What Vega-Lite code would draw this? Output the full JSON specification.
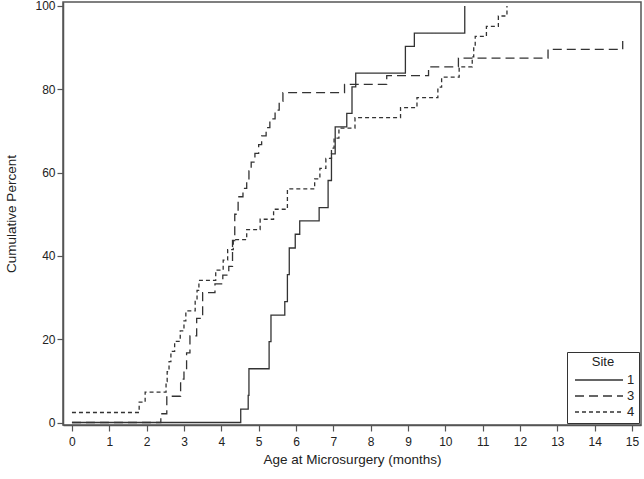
{
  "$schema": "https://vega.github.io/schema/vega-lite/v6.json",
  "width": 578,
  "height": 423,
  "autosize": {"type": "none"},
  "padding": {"left": 63, "top": 2, "right": 3, "bottom": 54},
  "background": "white",
  "config": {
    "font": "Liberation Sans",
    "view": {"stroke": "#555", "strokeWidth": 1.5},
    "axis": {"grid": false, "domainColor": "#555", "domainWidth": 1.5, "tickColor": "#555", "tickWidth": 1.2, "tickSize": 6, "labelColor": "#222", "titleColor": "#222", "labelFontSize": 12, "titleFontSize": 13.5, "titleFontWeight": "normal"}
  },
  "data": {
    "values": [
      {"site": "1", "x": 0, "y": 0},
      {"site": "1", "x": 4.52, "y": 3.2},
      {"site": "1", "x": 4.72, "y": 6.5},
      {"site": "1", "x": 4.74, "y": 12.9},
      {"site": "1", "x": 5.28, "y": 19.4},
      {"site": "1", "x": 5.33, "y": 25.8},
      {"site": "1", "x": 5.7, "y": 29.0},
      {"site": "1", "x": 5.77, "y": 35.5},
      {"site": "1", "x": 5.82, "y": 41.9},
      {"site": "1", "x": 5.98, "y": 45.2},
      {"site": "1", "x": 6.1, "y": 48.4},
      {"site": "1", "x": 6.62, "y": 51.6},
      {"site": "1", "x": 6.86, "y": 58.1},
      {"site": "1", "x": 6.95, "y": 64.5},
      {"site": "1", "x": 7.05, "y": 71.0},
      {"site": "1", "x": 7.36, "y": 74.2},
      {"site": "1", "x": 7.5, "y": 80.6},
      {"site": "1", "x": 7.6, "y": 83.9},
      {"site": "1", "x": 8.93, "y": 90.3},
      {"site": "1", "x": 9.17, "y": 93.5},
      {"site": "1", "x": 10.52, "y": 100},
      {"site": "3", "x": 0, "y": 0},
      {"site": "3", "x": 2.38, "y": 2.1},
      {"site": "3", "x": 2.54, "y": 6.3},
      {"site": "3", "x": 2.91, "y": 10.4},
      {"site": "3", "x": 3.0, "y": 12.5},
      {"site": "3", "x": 3.07, "y": 16.7},
      {"site": "3", "x": 3.16, "y": 20.8},
      {"site": "3", "x": 3.34, "y": 25.0},
      {"site": "3", "x": 3.5, "y": 31.2},
      {"site": "3", "x": 3.83, "y": 33.3},
      {"site": "3", "x": 4.04, "y": 35.4},
      {"site": "3", "x": 4.2, "y": 37.5},
      {"site": "3", "x": 4.3, "y": 43.7},
      {"site": "3", "x": 4.36, "y": 50.0},
      {"site": "3", "x": 4.45, "y": 54.2},
      {"site": "3", "x": 4.58, "y": 56.2},
      {"site": "3", "x": 4.68, "y": 58.3},
      {"site": "3", "x": 4.74, "y": 60.4},
      {"site": "3", "x": 4.8, "y": 62.5},
      {"site": "3", "x": 4.9, "y": 64.6},
      {"site": "3", "x": 5.0, "y": 66.7},
      {"site": "3", "x": 5.08, "y": 68.8},
      {"site": "3", "x": 5.2, "y": 70.8},
      {"site": "3", "x": 5.3, "y": 72.9},
      {"site": "3", "x": 5.44, "y": 75.0},
      {"site": "3", "x": 5.55, "y": 77.1},
      {"site": "3", "x": 5.65, "y": 79.2},
      {"site": "3", "x": 7.3, "y": 81.2},
      {"site": "3", "x": 8.43, "y": 83.3},
      {"site": "3", "x": 9.55, "y": 85.4},
      {"site": "3", "x": 10.35, "y": 87.5},
      {"site": "3", "x": 12.75, "y": 89.6},
      {"site": "3", "x": 14.75, "y": 91.6},
      {"site": "4", "x": 0, "y": 2.4},
      {"site": "4", "x": 1.8, "y": 4.9},
      {"site": "4", "x": 1.96, "y": 7.3},
      {"site": "4", "x": 2.52, "y": 9.8},
      {"site": "4", "x": 2.55, "y": 12.2},
      {"site": "4", "x": 2.6, "y": 14.6},
      {"site": "4", "x": 2.65, "y": 17.1},
      {"site": "4", "x": 2.75, "y": 19.5},
      {"site": "4", "x": 2.9, "y": 22.0},
      {"site": "4", "x": 3.0, "y": 24.4},
      {"site": "4", "x": 3.05, "y": 26.8},
      {"site": "4", "x": 3.3, "y": 29.3},
      {"site": "4", "x": 3.35, "y": 31.7},
      {"site": "4", "x": 3.4, "y": 34.1},
      {"site": "4", "x": 3.85, "y": 36.6},
      {"site": "4", "x": 4.05, "y": 39.0},
      {"site": "4", "x": 4.17, "y": 41.5},
      {"site": "4", "x": 4.32, "y": 43.9},
      {"site": "4", "x": 4.68, "y": 46.3},
      {"site": "4", "x": 5.04, "y": 48.8},
      {"site": "4", "x": 5.4, "y": 51.2},
      {"site": "4", "x": 5.77, "y": 56.1},
      {"site": "4", "x": 6.5, "y": 58.5},
      {"site": "4", "x": 6.64, "y": 61.0},
      {"site": "4", "x": 6.8, "y": 63.4},
      {"site": "4", "x": 6.95, "y": 65.9},
      {"site": "4", "x": 7.02, "y": 68.3},
      {"site": "4", "x": 7.15, "y": 70.7},
      {"site": "4", "x": 7.58, "y": 73.2},
      {"site": "4", "x": 8.8, "y": 75.6},
      {"site": "4", "x": 9.24, "y": 78.0},
      {"site": "4", "x": 9.8, "y": 80.5},
      {"site": "4", "x": 9.9, "y": 82.9},
      {"site": "4", "x": 10.37, "y": 85.4},
      {"site": "4", "x": 10.72, "y": 87.8},
      {"site": "4", "x": 10.76, "y": 90.2},
      {"site": "4", "x": 10.8, "y": 92.7},
      {"site": "4", "x": 11.1, "y": 95.1},
      {"site": "4", "x": 11.42, "y": 97.6},
      {"site": "4", "x": 11.65, "y": 100}
    ]
  },
  "mark": {"type": "line", "interpolate": "step-after", "color": "#333", "strokeWidth": 1.3},
  "encoding": {
    "x": {
      "field": "x", "type": "quantitative",
      "scale": {"domain": [-0.24, 15.24], "nice": false, "zero": false},
      "axis": {"values": [0,1,2,3,4,5,6,7,8,9,10,11,12,13,14,15], "title": "Age at Microsurgery (months)", "labelPadding": 5, "titlePadding": 5}
    },
    "y": {
      "field": "y", "type": "quantitative",
      "scale": {"domain": [-0.6, 100.96], "nice": false, "zero": false},
      "axis": {"values": [0,20,40,60,80,100], "title": "Cumulative Percent", "labelPadding": 2, "titlePadding": 16}
    },
    "strokeDash": {
      "field": "site", "type": "nominal",
      "scale": {"domain": ["1","3","4"], "range": [[1,0],[9,5],[4,3]]},
      "legend": {
        "title": "Site", "orient": "bottom-right", "offset": 2,
        "strokeColor": "#333", "fillColor": "white", "padding": 4,
        "titleAnchor": "middle", "titleFontSize": 13, "titleFontWeight": "normal", "titleColor": "#222", "titlePadding": 4,
        "labelFontSize": 13, "labelColor": "#222", "labelOffset": 21,
        "symbolType": "M-4,0H4", "symbolSize": 144, "symbolOffset": 21, "symbolStrokeColor": "#333", "symbolStrokeWidth": 1.3,
        "rowPadding": 2
      }
    }
  }
}
